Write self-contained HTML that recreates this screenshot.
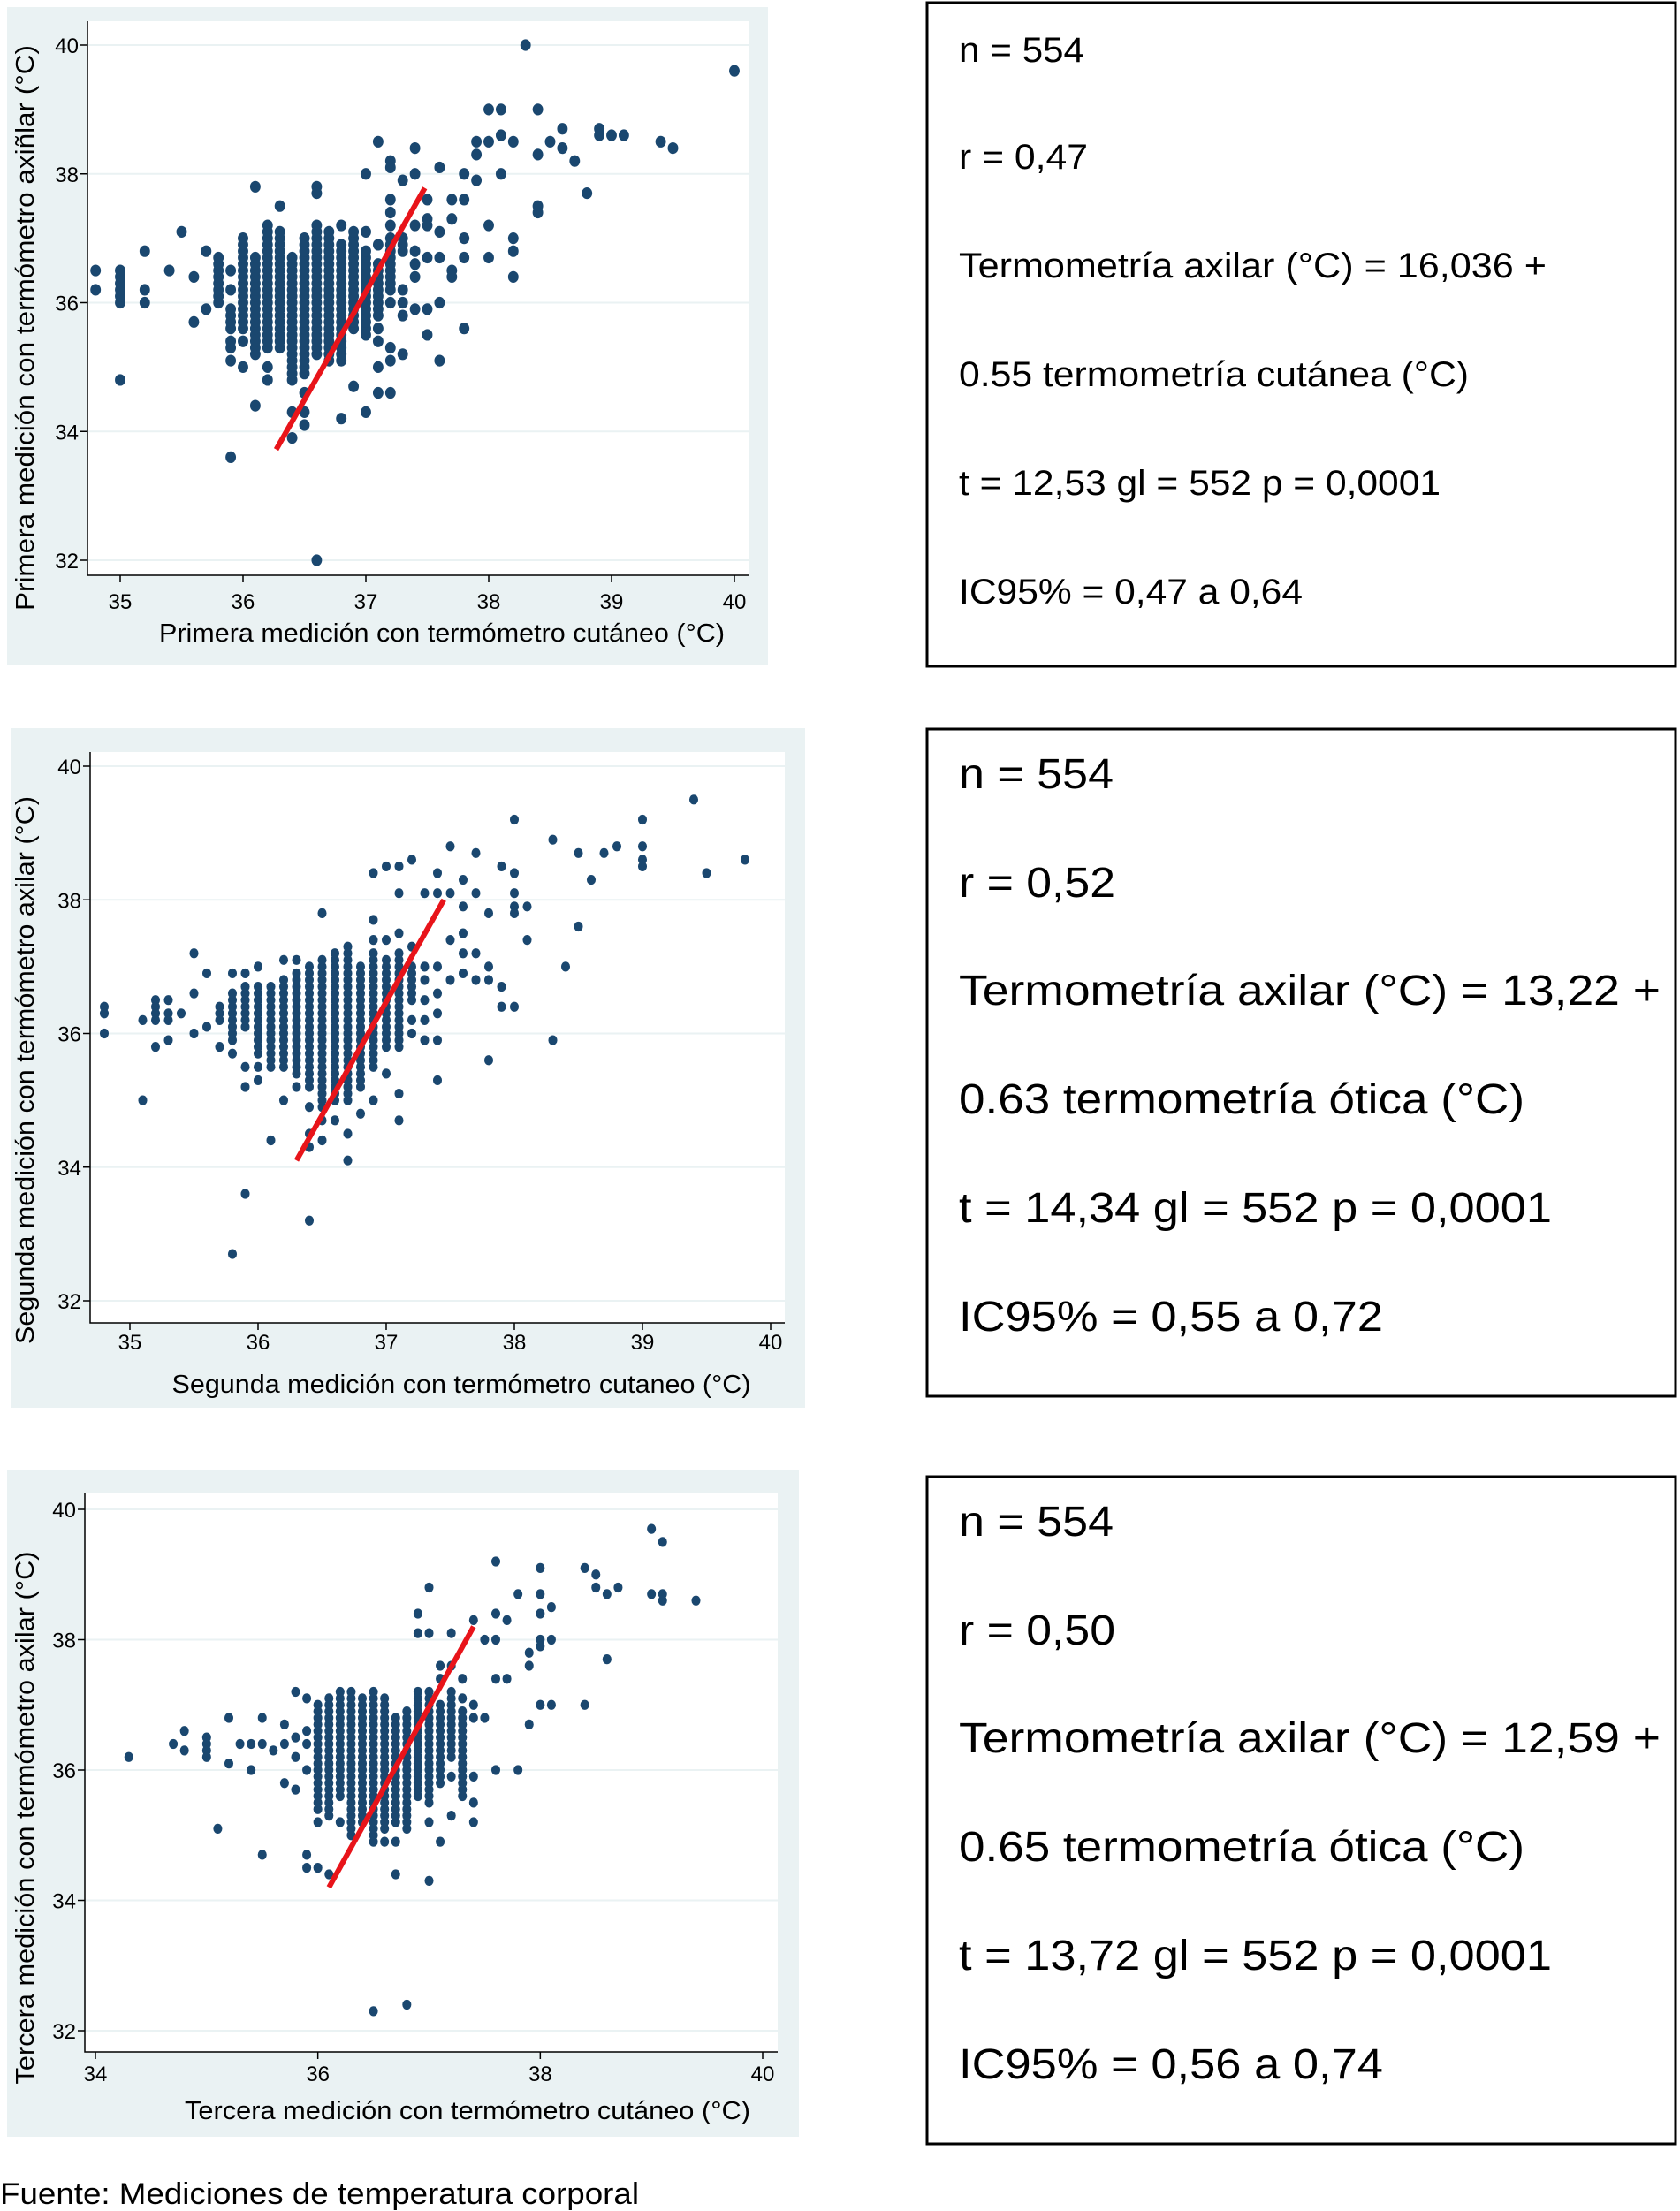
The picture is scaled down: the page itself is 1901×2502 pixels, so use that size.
<!DOCTYPE html>
<html><head><meta charset="utf-8"><style>
html,body{margin:0;padding:0;background:#fff;}
svg{display:block;font-family:"Liberation Sans",Arial,sans-serif;}
</style></head><body>
<svg id="root" width="1901" height="2502" viewBox="0 0 1901 2502" xmlns="http://www.w3.org/2000/svg">
<rect x="0" y="0" width="1901" height="2502" fill="#fff"/>
<g id="charts"></g>
<g>
<rect x="1049" y="3" width="847" height="751" fill="#fff" stroke="#000" stroke-width="3"/>
<g font-size="40" fill="#000">
<text x="1085" y="70" textLength="142" lengthAdjust="spacingAndGlyphs">n = 554</text>
<text x="1085" y="191" textLength="146" lengthAdjust="spacingAndGlyphs">r = 0,47</text>
<text x="1085" y="314" textLength="665" lengthAdjust="spacingAndGlyphs">Termometría axilar (°C) = 16,036 +</text>
<text x="1085" y="437" textLength="577" lengthAdjust="spacingAndGlyphs">0.55 termometría cutánea (°C)</text>
<text x="1085" y="560" textLength="545" lengthAdjust="spacingAndGlyphs">t = 12,53 gl = 552 p = 0,0001</text>
<text x="1085" y="683" textLength="389" lengthAdjust="spacingAndGlyphs">IC95% = 0,47 a 0,64</text>
</g></g>
<g>
<rect x="1049" y="825" width="847" height="755" fill="#fff" stroke="#000" stroke-width="3"/>
<g font-size="48" fill="#000">
<text x="1085" y="892" textLength="175" lengthAdjust="spacingAndGlyphs">n = 554</text>
<text x="1085" y="1015" textLength="177" lengthAdjust="spacingAndGlyphs">r = 0,52</text>
<text x="1085" y="1137" textLength="794" lengthAdjust="spacingAndGlyphs">Termometría axilar (°C) = 13,22 +</text>
<text x="1085" y="1260" textLength="640" lengthAdjust="spacingAndGlyphs">0.63 termometría ótica (°C)</text>
<text x="1085" y="1383" textLength="671" lengthAdjust="spacingAndGlyphs">t = 14,34 gl = 552 p = 0,0001</text>
<text x="1085" y="1506" textLength="480" lengthAdjust="spacingAndGlyphs">IC95% = 0,55 a 0,72</text>
</g></g>
<g>
<rect x="1049" y="1671" width="847" height="755" fill="#fff" stroke="#000" stroke-width="3"/>
<g font-size="48" fill="#000">
<text x="1085" y="1738" textLength="175" lengthAdjust="spacingAndGlyphs">n = 554</text>
<text x="1085" y="1861" textLength="177" lengthAdjust="spacingAndGlyphs">r = 0,50</text>
<text x="1085" y="1983" textLength="794" lengthAdjust="spacingAndGlyphs">Termometría axilar (°C) = 12,59 +</text>
<text x="1085" y="2106" textLength="640" lengthAdjust="spacingAndGlyphs">0.65 termometría ótica (°C)</text>
<text x="1085" y="2229" textLength="671" lengthAdjust="spacingAndGlyphs">t = 13,72 gl = 552 p = 0,0001</text>
<text x="1085" y="2352" textLength="480" lengthAdjust="spacingAndGlyphs">IC95% = 0,56 a 0,74</text>
</g></g>
<text x="0" y="2494" font-size="34" fill="#000" textLength="723" lengthAdjust="spacingAndGlyphs">Fuente: Mediciones de temperatura corporal</text>
</svg>
<script>
// ---- Panel 1 data (dense columns as lo/hi ranges, plus scattered points) ----
const p1ColX  = [35.0,35.8,35.9,36.0,36.1,36.2,36.3,36.4,36.5,36.6,36.7,36.8,36.9,37.0,37.1,37.2,37.3];
const p1ColLo = [36.0,36.0,35.6,35.6,35.2,35.3,35.3,34.8,34.9,35.2,35.1,35.1,35.6,35.5,35.8,36.2,36.8];
const p1ColHi = [36.5,36.7,35.9,37.0,36.7,37.2,37.1,36.7,37.0,37.2,37.1,36.9,37.1,36.8,36.6,37.0,37.0];
const p1PtX = [34.8,34.8,35.0,35.2,35.2,35.2,35.4,35.5,35.6,35.6,35.7,35.7,35.9,35.9,35.9,35.9,35.9,35.9,36.0,36.0,36.1,36.1,36.2,36.2,36.3,36.4,36.4,36.5,36.5,36.5,36.6,36.6,36.6,36.8,36.8,36.9,37.0,37.0,37.0,37.1,37.1,37.1,37.1,37.1,37.1,37.2,37.2,37.2,37.2,37.2,37.2,37.2,37.2,37.2,37.3,37.3,37.3,37.3,37.3,37.4,37.4,37.4,37.4,37.4,37.4,37.4,37.5,37.5,37.5,37.5,37.5,37.5,37.6,37.6,37.6,37.6,37.6,37.7,37.7,37.7,37.7,37.8,37.8,37.8,37.8,37.8,37.9,37.9,37.9,38.0,38.0,38.0,38.0,38.1,38.1,38.1,38.2,38.2,38.2,38.2,38.3,38.4,38.4,38.4,38.4,38.5,38.6,38.6,38.7,38.8,38.9,38.9,39.0,39.1,39.4,39.5,40.0];
const p1PtY = [36.5,36.2,34.8,36.8,36.2,36.0,36.5,37.1,36.4,35.7,36.8,35.9,36.5,36.2,35.4,35.3,35.1,33.6,35.4,35.0,37.8,34.4,35.0,34.8,37.5,34.3,33.9,34.6,34.3,34.1,37.8,37.7,32.0,37.2,34.2,34.7,38.0,37.1,34.3,38.5,36.9,35.6,35.4,35.0,34.6,38.2,38.1,37.6,37.4,37.2,36.0,35.3,35.1,34.6,37.9,36.2,36.0,35.8,35.2,38.4,38.0,37.2,36.8,36.6,36.4,35.9,37.6,37.3,37.2,36.7,35.9,35.5,38.1,37.1,36.7,36.0,35.1,37.6,37.3,36.5,36.4,38.0,37.6,37.0,36.7,35.6,38.5,38.3,37.9,39.0,38.5,37.2,36.7,39.0,38.6,38.0,38.5,37.0,36.8,36.4,40.0,39.0,38.3,37.5,37.4,38.5,38.7,38.4,38.2,37.7,38.7,38.6,38.6,38.6,38.5,38.4,39.6];
const p1Fit = [[36.27,33.72],[37.48,37.78]];
const p1XTicks = [35,36,37,38,39,40];
const p1YTicks = [32,34,36,38,40];

// ---- Panel 2 data ----
const p2ColX  = [35.8,35.9,36.0,36.1,36.2,36.3,36.4,36.5,36.6,36.7,36.8,36.9,37.0,37.1,37.2];
const p2ColLo = [35.9,36.1,35.7,35.5,35.5,35.4,35.2,34.9,35.0,35.0,35.2,35.5,35.8,35.8,36.5];
const p2ColHi = [36.6,36.7,36.7,36.7,36.8,36.9,37.0,37.1,37.2,37.3,37.0,37.2,37.1,37.2,37.0];
const p2PtX = [34.8,34.8,34.8,35.1,35.1,35.2,35.2,35.2,35.2,35.2,35.3,35.3,35.3,35.3,35.4,35.5,35.5,35.5,35.6,35.6,35.7,35.7,35.7,35.7,35.8,35.8,35.8,35.9,35.9,35.9,35.9,36.0,36.0,36.0,36.1,36.2,36.2,36.3,36.3,36.4,36.4,36.4,36.4,36.5,36.5,36.5,36.6,36.7,36.7,36.8,36.9,36.9,36.9,36.9,37.0,37.0,37.0,37.1,37.1,37.1,37.1,37.1,37.2,37.2,37.2,37.2,37.3,37.3,37.3,37.3,37.3,37.3,37.4,37.4,37.4,37.4,37.4,37.4,37.4,37.5,37.5,37.5,37.5,37.6,37.6,37.6,37.6,37.6,37.7,37.7,37.7,37.7,37.8,37.8,37.8,37.8,37.9,37.9,37.9,38.0,38.0,38.0,38.0,38.0,38.0,38.1,38.1,38.3,38.3,38.4,38.5,38.5,38.6,38.7,38.8,39.0,39.0,39.0,39.0,39.4,39.5,39.8];
const p2PtY = [36.4,36.3,36.0,36.2,35.0,36.5,36.4,36.3,36.2,35.8,36.5,36.3,36.2,35.9,36.3,37.2,36.6,36.0,36.9,36.1,36.4,36.3,36.2,35.8,36.9,35.7,32.7,36.9,35.5,35.2,33.6,37.0,35.5,35.3,34.4,37.1,35.0,37.1,35.2,34.9,34.5,34.3,33.2,37.8,34.7,34.4,34.7,34.5,34.1,34.8,38.4,37.7,37.4,35.0,38.5,37.4,35.4,38.5,38.1,37.5,35.1,34.7,38.6,37.3,36.2,36.0,38.1,37.0,36.8,36.5,36.2,35.9,38.4,38.1,37.0,36.6,36.3,35.9,35.3,38.8,38.1,37.4,36.8,38.3,37.9,37.5,37.2,36.9,38.7,38.1,37.2,36.8,37.8,37.0,36.8,35.6,38.5,36.7,36.4,39.2,38.4,38.1,37.9,37.8,36.4,37.9,37.4,38.9,35.9,37.0,38.7,37.6,38.3,38.7,38.8,39.2,38.8,38.6,38.5,39.5,38.4,38.6];
const p2Fit = [[36.3,34.1],[37.45,38.0]];
const p2XTicks = [35,36,37,38,39,40];
const p2YTicks = [32,34,36,38,40];

// ---- Panel 3 data ----
const p3ColX  = [36.0,36.1,36.2,36.3,36.4,36.5,36.6,36.7,36.8,36.9,37.0,37.1,37.2,37.3];
const p3ColLo = [35.4,35.3,35.6,35.1,35.2,34.9,35.1,35.2,35.1,35.6,35.5,35.8,36.2,35.6];
const p3ColHi = [37.0,37.1,37.2,37.2,37.1,37.2,37.1,36.8,36.9,37.2,37.2,37.0,37.2,36.9];
const p3PtX = [34.3,34.7,34.8,34.8,35.0,35.0,35.0,35.0,35.1,35.2,35.2,35.3,35.4,35.4,35.5,35.5,35.5,35.6,35.7,35.7,35.7,35.8,35.8,35.8,35.8,35.9,35.9,35.9,35.9,35.9,35.9,36.0,36.0,36.1,36.2,36.3,36.5,36.6,36.7,36.7,36.8,36.9,36.9,37.0,37.0,37.0,37.0,37.1,37.1,37.1,37.2,37.2,37.2,37.2,37.3,37.3,37.4,37.4,37.4,37.4,37.4,37.4,37.5,37.5,37.6,37.6,37.6,37.6,37.6,37.7,37.7,37.8,37.8,37.9,37.9,37.9,38.0,38.0,38.0,38.0,38.0,38.0,38.1,38.1,38.1,38.4,38.4,38.5,38.5,38.6,38.6,38.7,39.0,39.0,39.1,39.1,39.1,39.4];
const p3PtY = [36.2,36.4,36.6,36.3,36.5,36.4,36.3,36.2,35.1,36.8,36.1,36.4,36.4,36.0,36.8,36.4,34.7,36.3,36.7,36.4,35.8,37.2,36.5,36.2,35.7,37.1,36.6,36.4,36.0,34.7,34.5,35.2,34.5,34.4,35.2,35.0,32.3,34.9,34.9,34.4,32.4,38.4,38.1,38.8,38.1,35.2,34.3,37.6,37.4,34.9,38.1,37.6,35.9,35.3,37.4,37.1,38.3,37.0,36.8,35.9,35.5,35.2,38.0,36.8,39.2,38.4,38.0,37.4,36.0,38.3,37.4,38.7,36.0,37.8,37.6,36.7,39.1,38.7,38.4,38.0,37.9,37.0,38.5,38.0,37.0,39.1,37.0,39.0,38.8,38.7,37.7,38.8,39.7,38.7,39.5,38.7,38.6,38.6];
const p3Fit = [[36.1,34.2],[37.4,38.2]];
const p3XTicks = [34,36,38,40];
const p3YTicks = [32,34,36,38,40];

const NS = 'http://www.w3.org/2000/svg';
const charts = document.getElementById('charts');
function mk(tag, attrs, parent){
  const el = document.createElementNS(NS, tag);
  for (const k in attrs) el.setAttribute(k, attrs[k]);
  parent.appendChild(el);
  return el;
}
const panels = [
  {id:1, bg:[8,8,861,745], plot:[99,24,847,651], xd:[35,40], xr:[136,831], yd:[32,40], yr:[634,51], r:6.6, tickY:689, xt:p1XTicks, yt:p1YTicks,
   colX:p1ColX, colLo:p1ColLo, colHi:p1ColHi, ptX:p1PtX, ptY:p1PtY, fit:p1Fit,
   xTitle:'Primera medición con termómetro cutáneo (°C)', xtx:500, xty:726, xtw:640,
   yTitle:'Primera medición con termómetro axiñlar (°C)', ytx:38, yty:371, ytw:640},
  {id:2, bg:[13,824,898,769], plot:[102,851,888,1497], xd:[35,40], xr:[147,872], yd:[32,40], yr:[1472,867], r:5.6, tickY:1527, xt:p2XTicks, yt:p2YTicks,
   colX:p2ColX, colLo:p2ColLo, colHi:p2ColHi, ptX:p2PtX, ptY:p2PtY, fit:p2Fit,
   xTitle:'Segunda medición con termómetro cutaneo (°C)', xtx:522, xty:1576, xtw:655,
   yTitle:'Segunda medición con termómetro axilar (°C)', ytx:38, yty:1211, ytw:620},
  {id:3, bg:[8,1663,896,755], plot:[96,1689,880,2322], xd:[34,40], xr:[108,863], yd:[32,40], yr:[2298,1708], r:5.6, tickY:2355, xt:p3XTicks, yt:p3YTicks,
   colX:p3ColX, colLo:p3ColLo, colHi:p3ColHi, ptX:p3PtX, ptY:p3PtY, fit:p3Fit,
   xTitle:'Tercera medición con termómetro cutáneo (°C)', xtx:529, xty:2398, xtw:640,
   yTitle:'Tercera medición con termómetro axilar (°C)', ytx:38, yty:2057, ytw:603}
];
panels.forEach(p => {
  const sx = v => p.xr[0] + (v - p.xd[0]) * (p.xr[1] - p.xr[0]) / (p.xd[1] - p.xd[0]);
  const sy = v => p.yr[0] + (v - p.yd[0]) * (p.yr[1] - p.yr[0]) / (p.yd[1] - p.yd[0]);
  const g = mk('g', {}, charts);
  
  
  const bg = mk('rect', {x:p.bg[0], y:p.bg[1], width:p.bg[2], height:p.bg[3], fill:'#eaf2f3'}, g);
  
  
  const pa = mk('rect', {x:p.plot[0], y:p.plot[1], width:p.plot[2]-p.plot[0], height:p.plot[3]-p.plot[1], fill:'#fff'}, g);
  
  
  p.yt.forEach(t => {
    const y = sy(t);
    const gl = mk('line', {x1:p.plot[0], x2:p.plot[2], y1:y, y2:y, stroke:'#eaf2f3', 'stroke-width':2}, g);
    
    
    mk('line', {x1:p.plot[0]-8, x2:p.plot[0], y1:y, y2:y, stroke:'#000', 'stroke-width':1.5}, g);
    const tl = mk('text', {x:p.plot[0]-10, y:y+9, 'font-size':24, 'text-anchor':'end', fill:'#000'}, g);
    tl.textContent = t;
    
    
  });
  p.xt.forEach(t => {
    const x = sx(t);
    mk('line', {x1:x, x2:x, y1:p.plot[3], y2:p.plot[3]+8, stroke:'#000', 'stroke-width':1.5}, g);
    const tl = mk('text', {x:x, y:p.tickY, 'font-size':24, 'text-anchor':'middle', fill:'#000'}, g);
    tl.textContent = t;
    
    
  });
  const ax = mk('path', {d:`M${p.plot[0]},${p.plot[1]} V${p.plot[3]} H${p.plot[2]}`, fill:'none', stroke:'#000', 'stroke-width':1.5}, g);
  
  
  const dots = mk('g', {fill:'#1a476f'}, g);
  
  
  p.colX.forEach((cx, i) => {
    const n = Math.round((p.colHi[i] - p.colLo[i]) * 10);
    for (let k = 0; k <= n; k++) {
      const c = mk('ellipse', {cx:sx(cx), cy:sy(p.colLo[i] + k/10), rx:p.r*0.9, ry:p.r}, dots);
      
      
    }
  });
  p.ptX.forEach((x, i) => {
    const c = mk('ellipse', {cx:sx(x), cy:sy(p.ptY[i]), rx:p.r*0.9, ry:p.r}, dots);
    
    
  });
  const fl = mk('line', {x1:sx(p.fit[0][0]), y1:sy(p.fit[0][1]), x2:sx(p.fit[1][0]), y2:sy(p.fit[1][1]), stroke:'#e8141a', 'stroke-width':6}, g);
  
  
  const xt = mk('text', {x:p.xtx, y:p.xty, 'font-size':29, 'text-anchor':'middle', fill:'#000', textLength:p.xtw, lengthAdjust:'spacingAndGlyphs'}, g);
  xt.textContent = p.xTitle;
  
  
  const yt = mk('text', {x:0, y:0, 'font-size':29, 'text-anchor':'middle', fill:'#000', textLength:p.ytw, lengthAdjust:'spacingAndGlyphs', transform:`translate(${p.ytx},${p.yty}) rotate(-90)`}, g);
  yt.textContent = p.yTitle;
  
  
});
</script>
</body></html>
